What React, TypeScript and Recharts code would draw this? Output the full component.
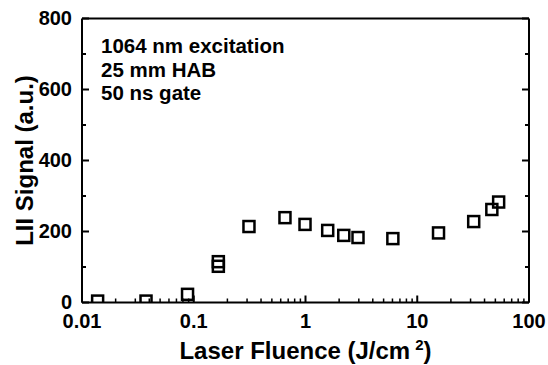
import React from 'react'
import { ScatterChart, Scatter, XAxis, YAxis, Label } from 'recharts'

// LII signal vs. laser fluence (1064 nm, 25 mm HAB, 50 ns gate)
const fluence = [0.0138, 0.0374, 0.088, 0.166, 0.166, 0.312, 0.655, 0.99, 1.58, 2.2, 2.95, 6.05, 15.5, 32, 46.5, 53.5]
const signal = [4, 4, 23, 115, 102, 214, 239, 220, 203, 189, 183, 180, 196, 228, 262, 283]

const xMajorTicks = [0.01, 0.1, 1, 10, 100]
const xMinorSteps = [2, 3, 4, 5, 6, 7, 8, 9]
const yMajorTicks = [0, 200, 400, 600, 800]
const yMinorTicks = [100, 300, 500, 700]
const notes = ['1064 nm excitation', '25 mm HAB', '50 ns gate']

// log decades get minor ticks at 2..9
const xTicks = [...xMajorTicks, ...xMajorTicks.slice(0, -1).flatMap(d => xMinorSteps.map(k => d * k))]
const yTicks = [...yMajorTicks, ...yMinorTicks]

const points = fluence.map((x, i) => ({ x, y: signal[i] }))

const FONT = '"Liberation Sans", Arial, Helvetica, sans-serif'
const W = 548
const H = 365
const MAJOR_LEN = 7
const MINOR_LEN = 4
const frame = { stroke: '#000', strokeWidth: 2 }

function BottomTick({ x, y, payload }: any) {
    const major = xMajorTicks.includes(payload.value)
    return (
        <g>
            <line x1={x} x2={x} y1={y} y2={y - (major ? MAJOR_LEN : MINOR_LEN)} stroke="#000" strokeWidth={major ? 2 : 1.5} />
            {major && (
                <text x={x} y={y + 25} textAnchor="middle" fontFamily={FONT} fontWeight={700} fontSize={20} fill="#000">
                    {payload.value}
                </text>
            )}
        </g>
    )
}

function LeftTick({ x, y, payload }: any) {
    const major = yMajorTicks.includes(payload.value)
    return (
        <g>
            <line x1={x} x2={x + (major ? MAJOR_LEN : MINOR_LEN)} y1={y} y2={y} stroke="#000" strokeWidth={2} />
            {major && (
                <text x={x - 10} y={y} dy="0.34em" textAnchor="end" fontFamily={FONT} fontWeight={700} fontSize={20} fill="#000">
                    {payload.value}
                </text>
            )}
        </g>
    )
}

function RightTick({ x, y, payload }: any) {
    const major = yMajorTicks.includes(payload.value)
    return <line x1={x} x2={x - (major ? MAJOR_LEN : MINOR_LEN)} y1={y} y2={y} stroke="#000" strokeWidth={2} />
}

function OpenSquare({ cx, cy }: any) {
    if (cx == null || cy == null) return null
    return <rect x={cx - 5.5} y={cy - 5.5} width={11} height={11} fill="none" stroke="#000" strokeWidth={2.5} />
}

function XTitle({ viewBox }: any) {
    const cx = viewBox.x + viewBox.width / 2
    return (
        <text x={cx} y={viewBox.y + 56} textAnchor="middle" fontFamily={FONT} fontWeight={700} fontSize={24} fill="#000">
            Laser Fluence (J/cm
            <tspan dx={5} dy={-9} fontSize={15}>2</tspan>
            <tspan dy={9}>)</tspan>
        </text>
    )
}

function YTitle({ viewBox }: any) {
    const cy = viewBox.y + viewBox.height / 2
    return (
        <text
            transform={`translate(${viewBox.x + 33}, ${cy}) rotate(-90)`}
            textAnchor="middle"
            fontFamily={FONT}
            fontWeight={700}
            fontSize={24}
            fill="#000"
        >
            LII Signal (a.u.)
        </text>
    )
}

export default function App() {
    return (
        <div style={{ position: 'absolute', left: 0, top: 0, width: W, height: H, background: '#fff' }}>
            <ScatterChart width={W} height={H} margin={{ top: 0, right: 0, bottom: 0, left: 0 }}>
                <XAxis
                    xAxisId="x"
                    dataKey="x"
                    type="number"
                    scale="log"
                    domain={[0.01, 100]}
                    allowDataOverflow
                    ticks={xTicks}
                    interval={0}
                    height={62.5}
                    tickSize={0}
                    tickMargin={0}
                    tickLine={false}
                    axisLine={frame}
                    tick={BottomTick}
                >
                    <Label content={XTitle} />
                </XAxis>
                <XAxis
                    xAxisId="top"
                    orientation="top"
                    type="number"
                    scale="log"
                    domain={[0.01, 100]}
                    allowDataOverflow
                    ticks={xMajorTicks}
                    height={18.5}
                    tick={false}
                    tickLine={false}
                    axisLine={frame}
                />
                <YAxis
                    yAxisId="left"
                    dataKey="y"
                    type="number"
                    domain={[0, 800]}
                    allowDataOverflow
                    ticks={yTicks}
                    interval={0}
                    width={82}
                    tickSize={0}
                    tickMargin={0}
                    tickLine={false}
                    axisLine={frame}
                    tick={LeftTick}
                >
                    <Label content={YTitle} />
                </YAxis>
                <YAxis
                    yAxisId="right"
                    orientation="right"
                    type="number"
                    domain={[0, 800]}
                    allowDataOverflow
                    ticks={yTicks}
                    interval={0}
                    width={19}
                    tickSize={0}
                    tickMargin={0}
                    tickLine={false}
                    axisLine={frame}
                    tick={RightTick}
                />
                <Scatter
                    data={points}
                    xAxisId="x"
                    yAxisId="left"
                    shape={OpenSquare}
                    isAnimationActive={false}
                />
            </ScatterChart>
            <svg width={W} height={H} style={{ position: 'absolute', left: 0, top: 0, pointerEvents: 'none' }}>
                <text fontFamily={FONT} fontWeight={700} fontSize={20.5} fill="#000">
                    {notes.map((line, i) => (
                        <tspan key={line} x={101} y={53 + i * 23.7}>
                            {line}
                        </tspan>
                    ))}
                </text>
            </svg>
        </div>
    )
}
